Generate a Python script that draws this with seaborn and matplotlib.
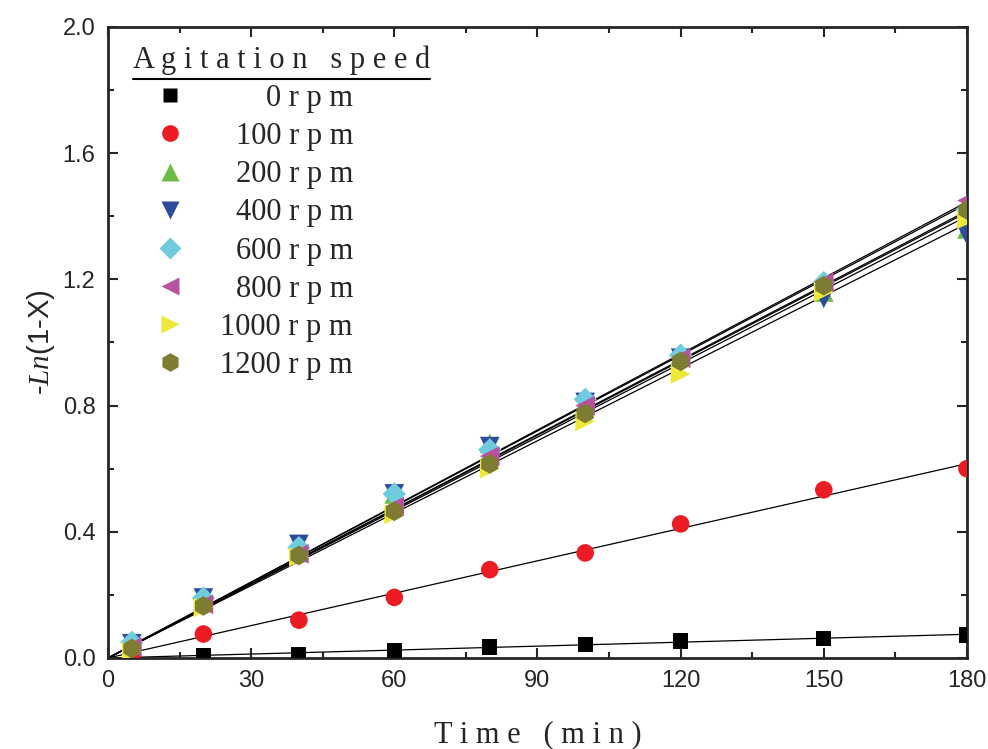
import matplotlib
matplotlib.use("Agg")
import matplotlib.pyplot as plt
from matplotlib.lines import Line2D
from matplotlib.ticker import MultipleLocator
import numpy as np
import pandas as pd
import seaborn as sns

# data
time = [5, 20, 40, 60, 80, 100, 120, 150, 180]
rpm_0 = [0.003, 0.008, 0.010, 0.022, 0.035, 0.044, 0.054, 0.063, 0.073]
rpm_100 = [0.010, 0.076, 0.120, 0.192, 0.280, 0.333, 0.425, 0.533, 0.600]
rpm_200 = [0.045, 0.190, 0.360, 0.520, 0.680, 0.810, 0.960, 1.160, 1.360]
rpm_400 = [0.045, 0.190, 0.360, 0.520, 0.670, 0.810, 0.950, 1.140, 1.340]
rpm_600 = [0.050, 0.190, 0.350, 0.520, 0.660, 0.820, 0.960, 1.190, 1.420]
rpm_800 = [0.035, 0.170, 0.330, 0.480, 0.640, 0.800, 0.950, 1.190, 1.450]
rpm_1000 = [0.020, 0.160, 0.320, 0.455, 0.600, 0.750, 0.900, 1.160, 1.390]
rpm_1200 = [0.030, 0.165, 0.325, 0.465, 0.615, 0.775, 0.940, 1.180, 1.420]

labels = ['0 r p m', '100 r p m', '200 r p m', '400 r p m',
          '600 r p m', '800 r p m', '1000 r p m', '1200 r p m']
series = [rpm_0, rpm_100, rpm_200, rpm_400, rpm_600, rpm_800, rpm_1000, rpm_1200]
colors = ['#000000', '#ED1C24', '#6ABD45', '#2E4B9E',
          '#6FCCDD', '#B653A0', '#EDE83B', '#7E7B33']
markers = ['s', 'o', '^', 'v', 'D', '<', '>', 'h']
sizes = [120, 160, 200, 200, 140, 200, 200, 200]

rows = []
for lab, vals in zip(labels, series):
    for t, v in zip(time, vals):
        rows.append({'time': t, 'value': v, 'speed': lab})
df = pd.DataFrame(rows)

sns.set_style('ticks')
plt.rcParams['font.family'] = ['Liberation Sans', 'DejaVu Sans']
plt.rcParams['mathtext.fontset'] = 'custom'
plt.rcParams['mathtext.it'] = 'Liberation Serif:italic'
plt.rcParams['mathtext.rm'] = 'Liberation Sans'

fig = plt.figure(figsize=(9.88, 7.49), dpi=100)
ax = fig.add_axes([0.1093, 0.1215, 0.8694, 0.8425])

# linear fits through origin
t_arr = np.array(time, dtype=float)
t_line = np.array([0, 180])
for vals in series:
    k = np.sum(t_arr * np.array(vals)) / np.sum(t_arr ** 2)
    ax.plot(t_line, k * t_line, color='black', lw=0.9, zorder=2)

for lab, col, mk, sz in zip(labels, colors, markers, sizes):
    sub = df[df['speed'] == lab]
    sns.scatterplot(data=sub, x='time', y='value', color=col, marker=mk,
                    s=sz, edgecolor='none', ax=ax, zorder=3, legend=False)

ax.set_xlim(0, 180)
ax.set_ylim(0, 2.0)
ax.xaxis.set_major_locator(MultipleLocator(30))
ax.xaxis.set_minor_locator(MultipleLocator(15))
ax.yaxis.set_major_locator(MultipleLocator(0.4))
ax.yaxis.set_minor_locator(MultipleLocator(0.2))
ax.yaxis.set_major_formatter(matplotlib.ticker.FormatStrFormatter('%.1f'))
ax.tick_params(which='both', direction='in', top=True, right=True, width=1.5)
ax.tick_params(which='major', length=7, labelsize=17, pad=9)
ax.tick_params(which='minor', length=4)
for sp in ax.spines.values():
    sp.set_linewidth(2)

ax.set_xlabel('T i m e   ( m i n )', fontsize=22, family='Liberation Serif', labelpad=20)
ax.set_ylabel(r'-$Ln$(1-X)', fontsize=21, labelpad=4)

handles = [Line2D([], [], ls='none', marker=mk, color=col, markersize=np.sqrt(sz) * 0.95,
                  markeredgecolor='none')
           for col, mk, sz in zip(colors, markers, sizes)]
leg = ax.legend(handles, labels, loc='upper left', bbox_to_anchor=(0.008, 1.0),
                frameon=False, title='A g i t a t i o n   s p e e d',
                prop={'family': 'Liberation Serif', 'size': 22},
                handletextpad=0.45, labelspacing=0.3, borderaxespad=0.2,
                handlelength=2.4, markerfirst=True)
leg.get_title().set_fontsize(22)
leg.get_title().set_family('Liberation Serif')
leg._legend_box.align = 'left'
fig.canvas.draw()
# right-align legend labels
texts = leg.get_texts()
r_edge = max(t.get_window_extent().x1 for t in texts)
inv = ax.transAxes.inverted()
for t in texts:
    bb = t.get_window_extent()
    shift = r_edge - bb.x1
    t.set_position((shift, 0))
# underline the legend title
tb = leg.get_title().get_window_extent()
(x0, y0), (x1, _) = inv.transform([(tb.x0, tb.y0 - 4), (tb.x1, tb.y0)])
ax.plot([x0, x1], [y0, y0], transform=ax.transAxes, color='black', lw=1.5, clip_on=False)

fig.savefig('out.png', dpi=100)
